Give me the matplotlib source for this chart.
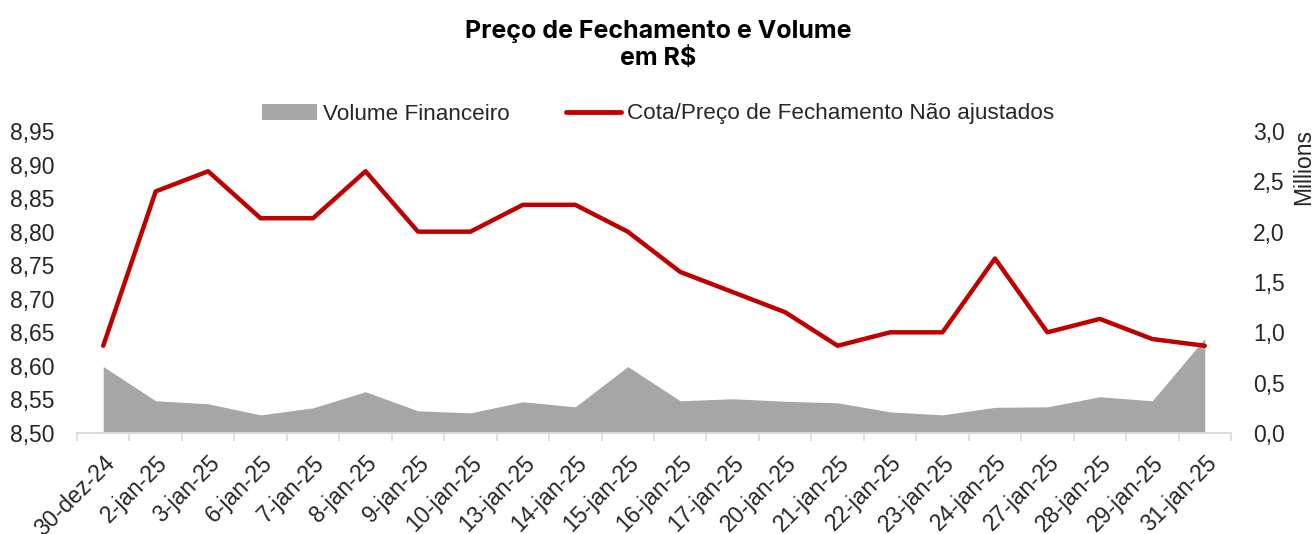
import matplotlib as mpl
mpl.use('Agg')
import matplotlib.pyplot as plt
from matplotlib.ticker import FuncFormatter, FixedLocator
from matplotlib.patches import Patch
from matplotlib.lines import Line2D
from matplotlib.transforms import ScaledTranslation

plt.rcParams['font.family'] = ['Liberation Sans', 'DejaVu Sans']

datas = ['30-dez-24', '2-jan-25', '3-jan-25', '6-jan-25', '7-jan-25', '8-jan-25',
         '9-jan-25', '10-jan-25', '13-jan-25', '14-jan-25', '15-jan-25', '16-jan-25',
         '17-jan-25', '20-jan-25', '21-jan-25', '22-jan-25', '23-jan-25', '24-jan-25',
         '27-jan-25', '28-jan-25', '29-jan-25', '31-jan-25']
preco = [8.63, 8.86, 8.89, 8.82, 8.82, 8.89, 8.80, 8.80, 8.84, 8.84, 8.80, 8.74,
         8.71, 8.68, 8.63, 8.65, 8.65, 8.76, 8.65, 8.67, 8.64, 8.63]
volume_mi = [0.66, 0.32, 0.29, 0.18, 0.25, 0.41, 0.22, 0.20, 0.31, 0.26, 0.66, 0.32,
             0.34, 0.315, 0.30, 0.21, 0.18, 0.255, 0.26, 0.36, 0.32, 0.94]

cinza = '#A6A6A6'
vermelho = '#C00000'
texto = '#262626'
fs = 16.5
x = list(range(len(datas)))

fig = plt.figure(figsize=(13.16, 5.34), dpi=100)
ax1 = fig.add_axes([77/1316, 1-433/534, (1231-77)/1316, (433-131)/534])
ax2 = ax1.twinx()

# volume no eixo da direita, por baixo da linha
ax2.fill_between(x, volume_mi, 0, color=cinza, linewidth=0, zorder=1)
ax2.set_ylim(0, 3.0)
ax2.set_yticks([0, 0.5, 1.0, 1.5, 2.0, 2.5, 3.0])
ax2.yaxis.set_major_formatter(FuncFormatter(lambda v, p: f'{v:.1f}'.replace('.', ',')))
ax2.text(1.0625, 1.005, 'Millions', transform=ax2.transAxes, rotation=90,
         ha='center', va='top', fontsize=fs, color=texto)

ax1.set_zorder(ax2.get_zorder() + 1)
ax1.patch.set_visible(False)
ax1.plot(x, preco, color=vermelho, linewidth=3.2, solid_joinstyle='round',
         solid_capstyle='round', zorder=3)
ax1.set_ylim(8.50, 8.95)
ax1.set_yticks([8.50 + 0.05*i for i in range(10)])
ax1.yaxis.set_major_formatter(FuncFormatter(lambda v, p: f'{v:.2f}'.replace('.', ',')))
ax1.set_xlim(-0.5, len(datas) - 0.5)
ax1.set_xticks(x)
ax1.set_xticklabels(datas, rotation=45, ha='right', rotation_mode='anchor')
ax1.xaxis.set_minor_locator(FixedLocator([i - 0.5 for i in range(len(datas) + 1)]))
desloc = ScaledTranslation(-4/100, 0, fig.dpi_scale_trans)
for lbl in ax1.get_xticklabels():
    lbl.set_transform(lbl.get_transform() + desloc)

for ax in (ax1, ax2):
    for s in ('top', 'left', 'right'):
        ax.spines[s].set_visible(False)
    ax.spines['bottom'].set_color('#D9D9D9')
    ax.spines['bottom'].set_linewidth(1.2)
    ax.tick_params(axis='y', length=0, labelsize=fs, labelcolor=texto, pad=16)
ax1.tick_params(axis='x', which='major', length=0, labelsize=fs, labelcolor=texto, pad=13)
ax1.tick_params(axis='x', which='minor', length=6, color='#D9D9D9', width=1.2)
ax2.tick_params(axis='x', length=0)

fig.text(0.5, 1-45/534, 'Preço de Fechamento e Volume\nem R$', ha='center', va='center',
         fontsize=18, fontweight='bold', color='black', linespacing=1.2,
         family=['Inter', 'DejaVu Sans'])

handles = [Patch(facecolor=cinza, edgecolor='none'),
           Line2D([0], [0], color=vermelho, linewidth=3.5, solid_capstyle='round')]
fig.legend(handles, ['Volume Financeiro', 'Cota/Preço de Fechamento Não ajustados'],
           loc='center', bbox_to_anchor=(0.5, 1-114/534), ncol=2, frameon=False,
           fontsize=16.2, handlelength=2.45, handletextpad=0.25, columnspacing=2.5,
           labelcolor=texto)

fig.savefig('out.png', dpi=100)
